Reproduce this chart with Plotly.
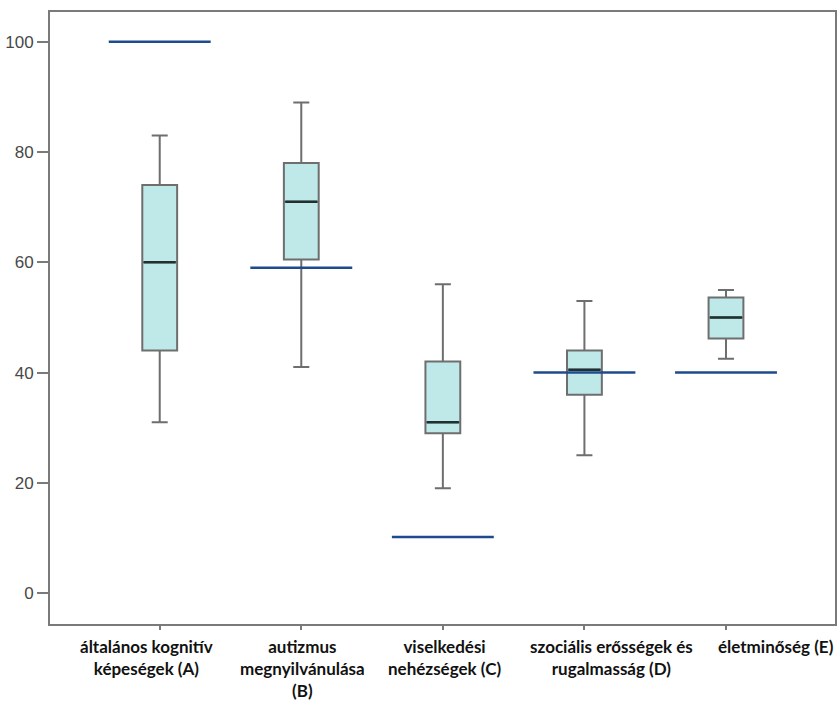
import plotly.graph_objects as go

# ---- data ----
categories = ["általános kognitív<br>képeségek (A)",
              "autizmus<br>megnyilvánulása<br>(B)",
              "viselkedési<br>nehézségek (C)",
              "szociális erősségek és<br>rugalmasság (D)",
              "életminőség (E)"]
lower_whisker = [31, 41, 19, 25, 42.5]
q1_values = [44, 60.5, 29, 36, 46.2]
median_values = [60, 71, 31, 40.5, 50]
q3_values = [74, 78, 42, 44, 53.6]
upper_whisker = [83, 89, 56, 53, 55]
reference_values = [100, 59, 10.2, 40, 40]
y_ticks = [0, 20, 40, 60, 80, 100]

# ---- styling / layout helpers ----
positions = list(range(len(categories)))
box_width = 0.246
ref_half = 0.36
label_offsets = [-0.09, 0.01, 0.01, 0.19, 0.35]

fig = go.Figure()

fig.add_trace(go.Box(
    x=positions,
    q1=q1_values, median=median_values, q3=q3_values,
    lowerfence=lower_whisker, upperfence=upper_whisker,
    width=box_width, whiskerwidth=0.46,
    fillcolor="#bfe9e9",
    line=dict(color="#6e6e6e", width=2),
    boxpoints=False, hoverinfo="skip", showlegend=False,
))

# medians drawn darker
for p, m in zip(positions, median_values):
    fig.add_trace(go.Scatter(
        x=[p - box_width / 2 + 0.01, p + box_width / 2 - 0.01], y=[m, m],
        mode="lines", line=dict(color="#1e3030", width=2.5),
        hoverinfo="skip", showlegend=False))

# reference lines
for p, r in zip(positions, reference_values):
    fig.add_trace(go.Scatter(
        x=[p - ref_half, p + ref_half], y=[r, r],
        mode="lines", line=dict(color="#1f4b8e", width=2.5),
        hoverinfo="skip", showlegend=False))

# category labels
for p, lab, off in zip(positions, categories, label_offsets):
    fig.add_annotation(
        x=p + off, y=0, xref="x", yref="paper",
        yanchor="top", yshift=-11, borderpad=0,
        text=lab, showarrow=False, align="center",
        font=dict(family="Lato", size=17, color="#111111", weight="bold"),
    )

fig.update_layout(
    width=840, height=704,
    margin=dict(l=50, r=3, t=12, b=80),
    paper_bgcolor="white", plot_bgcolor="white",
    showlegend=False,
)
fig.update_xaxes(
    range=[-0.775, 4.77],
    tickvals=positions, ticktext=[""] * len(positions),
    ticks="outside", ticklen=4, tickwidth=2, tickcolor="#7a7a7a",
    showline=True, linecolor="#7a7a7a", linewidth=2, mirror=True,
    showgrid=False, zeroline=False,
)
fig.update_yaxes(
    range=[-5.6, 105.4],
    tickvals=y_ticks,
    ticks="outside", ticklen=11, tickwidth=2, tickcolor="#7a7a7a",
    tickfont=dict(family="Liberation Sans", size=17, color="#484848"),
    showline=True, linecolor="#7a7a7a", linewidth=2, mirror=True,
    showgrid=False, zeroline=False,
)

fig.write_html(
    "out.html",
    config={"displayModeBar": False},
    post_script="document.body.style.margin='0';document.body.style.padding='0';"
                "document.body.style.overflow='hidden';",
)
